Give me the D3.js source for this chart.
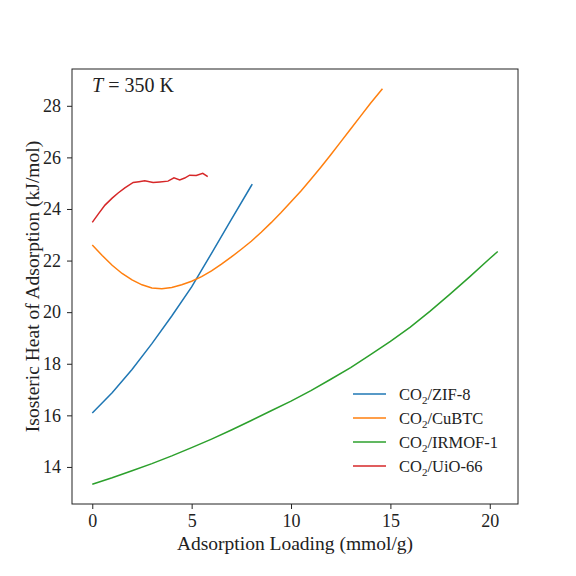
<!DOCTYPE html>
<html>
<head>
<meta charset="utf-8">
<script src="https://cdn.jsdelivr.net/npm/d3@7"></script>
<style>
  body { margin: 0; background: #fff; }
  text { font-family: "Liberation Serif", "DejaVu Serif", serif; fill: #222; }
</style>
</head>
<body>
<svg id="chart" width="576" height="576"></svg>
<script>
// loadings (mmol/g) and isosteric heats (kJ/mol)
var zifX = [0, 1, 2, 3, 4, 5, 6, 7, 8, 8.05];
var zifY = [16.09, 16.88, 17.78, 18.78, 19.85, 20.98, 22.28, 23.6, 24.9, 24.96];

var cubtcX = [0, 0.5, 1, 1.5, 2, 2.5, 3, 3.5, 4, 4.5, 5, 5.5, 6, 6.5, 7, 7.5, 8, 8.5, 9, 9.5, 10,
              10.5, 11, 11.5, 12, 12.5, 13, 13.5, 14, 14.6];
var cubtcY = [22.6, 22.2, 21.82, 21.5, 21.25, 21.06, 20.94, 20.91, 20.96, 21.06, 21.2, 21.38, 21.6,
              21.86, 22.14, 22.44, 22.75, 23.1, 23.47, 23.86, 24.28, 24.7, 25.15, 25.62, 26.1, 26.6,
              27.1, 27.6, 28.1, 28.66];

var irmofX = [0, 1, 2, 3, 4, 5, 6, 7, 8, 9, 10, 11, 12, 13, 14, 15, 16, 17, 18, 19, 20, 20.4];
var irmofY = [13.33, 13.58, 13.85, 14.13, 14.43, 14.75, 15.08, 15.43, 15.8, 16.18, 16.55, 16.96,
              17.4, 17.85, 18.35, 18.87, 19.42, 20.04, 20.7, 21.38, 22.08, 22.35];

var uioX = [0, 0.3, 0.64, 1, 1.3, 1.64, 2.06, 2.35, 2.64, 3.06, 3.4, 3.81, 4.11, 4.4, 4.65, 4.9,
            5.23, 5.56, 5.81];
var uioY = [23.48, 23.8, 24.15, 24.42, 24.62, 24.82, 25.03, 25.06, 25.09, 25.03, 25.05, 25.08,
            25.21, 25.13, 25.2, 25.31, 25.3, 25.38, 25.25];

var seriesNames = ["ZIF-8", "CuBTC", "IRMOF-1", "UiO-66"];
var seriesColors = ["#1f77b4", "#ff7f0e", "#2ca02c", "#d62728"];
var xTicks = [0, 5, 10, 15, 20];
var yTicks = [14, 16, 18, 20, 22, 24, 26, 28];

var series = [
    { name: seriesNames[0], xs: zifX, ys: zifY },
    { name: seriesNames[1], xs: cubtcX, ys: cubtcY },
    { name: seriesNames[2], xs: irmofX, ys: irmofY },
    { name: seriesNames[3], xs: uioX, ys: uioY }
];

var margin = { left: 72, top: 69, right: 58, bottom: 72 };
var width = 576 - margin.left - margin.right;
var height = 576 - margin.top - margin.bottom;

var svg = d3.select("#chart");
var g = svg.append("g").attr("transform", "translate(" + margin.left + "," + margin.top + ")");

// matplotlib style 5% padding around the data
var xMin = 0, xMax = 20.4, yMin = 13.33, yMax = 28.66;
var xPad = (xMax - xMin) * 0.05, yPad = (yMax - yMin) * 0.05;
var x = d3.scaleLinear().domain([xMin - xPad, xMax + xPad]).range([0, width]);
var y = d3.scaleLinear().domain([yMin - yPad, yMax + yPad]).range([height, 0]);

var line = d3.line()
    .x(function (d) { return x(d[0]); })
    .y(function (d) { return y(d[1]); });

g.selectAll("path.series").data(series).enter()
    .append("path")
    .attr("class", "series")
    .attr("fill", "none")
    .attr("stroke", function (d, i) { return seriesColors[i]; })
    .attr("stroke-width", 1.5)
    .attr("d", function (d) { return line(d.xs.map(function (v, i) { return [v, d.ys[i]]; })); });

// axes
var xAxis = g.append("g").attr("transform", "translate(0," + height + ")")
    .call(d3.axisBottom(x).tickValues(xTicks).tickSize(5).tickPadding(5).tickFormat(d3.format("d")));
var yAxis = g.append("g")
    .call(d3.axisLeft(y).tickValues(yTicks).tickSize(5).tickPadding(6).tickFormat(d3.format("d")));
[xAxis, yAxis].forEach(function (a) {
    a.select(".domain").remove();
    a.selectAll("line").attr("stroke", "#222").attr("stroke-width", 1);
    a.selectAll("text").style("font-size", "18px").attr("fill", "#222")
        .style("font-family", "'Liberation Serif', serif");
});

g.append("rect").attr("width", width).attr("height", height)
    .attr("fill", "none").attr("stroke", "#222").attr("stroke-width", 1);

// temperature annotation
var ann = g.append("text").attr("x", 20).attr("y", 23).style("font-size", "20px");
ann.append("tspan").style("font-style", "italic").text("T");
ann.append("tspan").text(" = 350 K");

// axis labels
svg.append("text").attr("x", margin.left + width / 2).attr("y", 550)
    .attr("text-anchor", "middle").style("font-size", "19.5px")
    .text("Adsorption Loading (mmol/g)");
svg.append("text").attr("transform", "translate(39," + (margin.top + height / 2) + ") rotate(-90)")
    .attr("text-anchor", "middle").style("font-size", "19.5px")
    .text("Isosteric Heat of Adsorption (kJ/mol)");

// legend
var legend = g.append("g").attr("transform", "translate(281,325)");
var rows = legend.selectAll("g").data(series).enter().append("g")
    .attr("transform", function (d, i) { return "translate(0," + (i * 24) + ")"; });
rows.append("line").attr("x1", 0).attr("x2", 33)
    .attr("stroke", function (d, i) { return seriesColors[i]; }).attr("stroke-width", 1.5);
var lt = rows.append("text").attr("x", 46).attr("y", 5.5).style("font-size", "16.5px");
lt.append("tspan").text("CO");
lt.append("tspan").attr("dy", 4).style("font-size", "11px").text("2");
lt.append("tspan").attr("dy", -4).text(function (d) { return "/" + d.name; });
</script>
</body>
</html>
